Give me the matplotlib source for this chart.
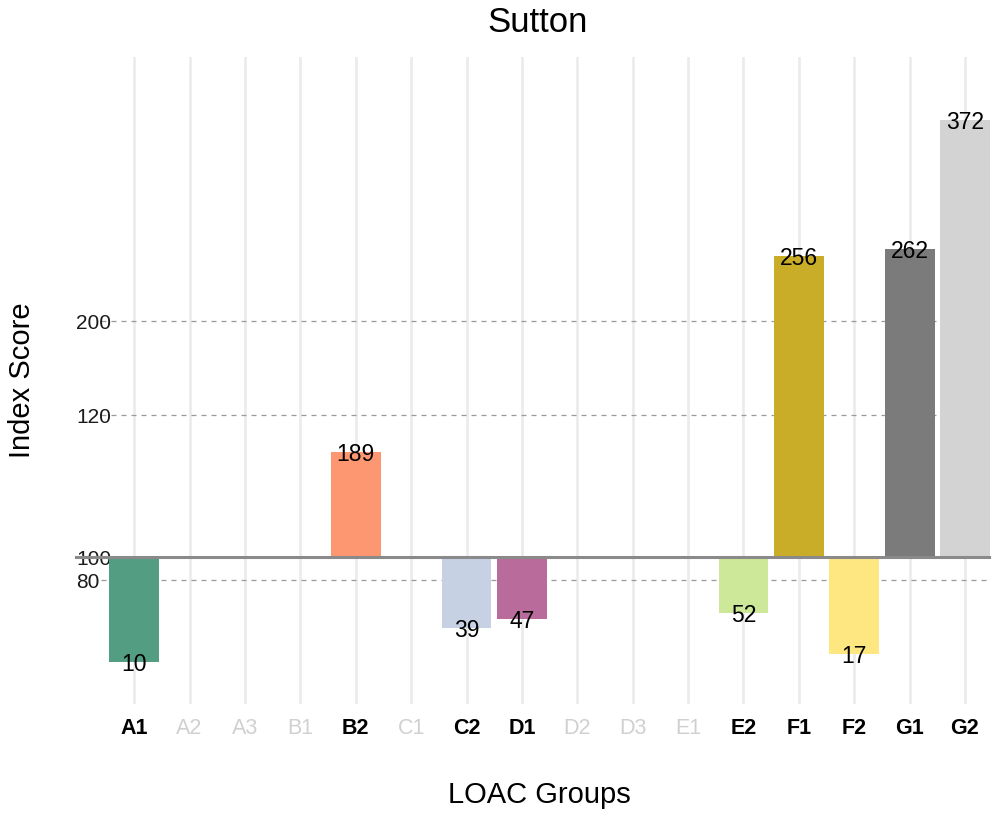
import numpy as np
import matplotlib
matplotlib.use("Agg")
import matplotlib.pyplot as plt

plt.rcParams["font.family"] = ["Liberation Sans", "DejaVu Sans"]

# LOAC groups and Sutton index scores (NaN = group not present)
groups = ["A1", "A2", "A3", "B1", "B2", "C1", "C2", "D1",
          "D2", "D3", "E1", "E2", "F1", "F2", "G1", "G2"]
index_score = [10, np.nan, np.nan, np.nan, 189, np.nan, 39, 47,
               np.nan, np.nan, np.nan, 52, 256, 17, 262, 372]
bar_colours = ["#539d83", "#ffffff", "#ffffff", "#ffffff", "#fd9771", "#ffffff",
               "#c6d1e4", "#b96c9b", "#ffffff", "#ffffff", "#ffffff", "#cde898",
               "#c9ad29", "#fee781", "#7b7b7b", "#d3d3d3"]
tick_labels = ["80", "100", "120", "200"]

# piecewise axis: index -> drawn height, stretched around 190-200
scale_vals = [-1000, 100, 189, 200, 2000]
scale_pos = [-1100, 0, 89.5, 201.5, 2001.5]


def forward(v):
    return np.interp(v, scale_vals, scale_pos)


def inverse(u):
    return np.interp(u, scale_pos, scale_vals)


fig = plt.figure(figsize=(9.91, 8.15), dpi=100)
ax = fig.add_axes([101 / 991, 1 - 704 / 815, 890 / 991, 647 / 815])
ax.set_yscale("function", functions=(forward, inverse))

x = np.arange(len(groups))
scores = np.array(index_score, dtype=float)
present = ~np.isnan(scores)

# vertical gridlines behind bars
for xi in x:
    ax.axvline(xi, color="#ebebeb", lw=1.9, zorder=0)

ax.bar(x[present], scores[present] - 100, bottom=100, width=0.9,
       color=[c for c, p in zip(bar_colours, present) if p], zorder=2)

# reference line at 100, running through the axis label
ax.plot([-0.028, 1], [100, 100], transform=ax.get_yaxis_transform(),
        color="#8a8a8a", lw=2.2, clip_on=False, zorder=3)

for xi, v in zip(x[present], scores[present]):
    ax.text(xi, v, f"{v:.0f}", ha="center", va="center_baseline",
            fontsize=16.5, color="black", zorder=4)

ax.set_xlim(-0.6, 15.47)
ax.set_ylim(inverse(-125.6), inverse(427.4))

ax.set_xticks(x, groups)
for lab, p in zip(ax.get_xticklabels(), present):
    lab.set_fontweight("bold" if p else "normal")
    lab.set_color("black" if p else "#d0d0d0")
ax.tick_params(axis="x", length=0, labelsize=15.5, pad=10)

ax.set_yticks(inverse([-20, 0, 121.4, 201.5]), tick_labels)
for lab in ax.get_yticklabels():
    lab.set_horizontalalignment("left")
ax.tick_params(axis="y", length=0, labelsize=15, pad=18, labelcolor="#1a1a1a")
ax.yaxis.grid(True, color="#9a9a9a", lw=0.9, ls=(0, (4, 4)), zorder=1)
ax.set_axisbelow(True)

for s in ax.spines.values():
    s.set_visible(False)

fig.text(538 / 991, 1 - 23 / 815, "Sutton", ha="center", va="center", fontsize=25)
fig.text(22 / 991, 1 - 380 / 815, "Index Score", rotation=90,
         ha="center", va="center", fontsize=21)
fig.text(539 / 991, 1 - 795 / 815, "LOAC Groups", ha="center", va="center",
         fontsize=21)

fig.savefig("out.png", dpi=100)
